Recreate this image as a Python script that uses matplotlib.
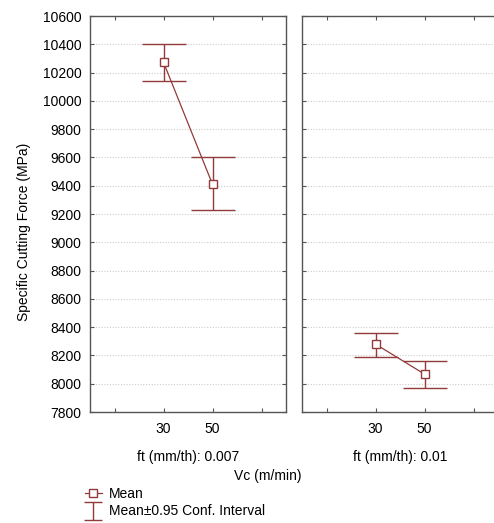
import matplotlib
matplotlib.use("Agg")
import matplotlib.pyplot as plt
from matplotlib.lines import Line2D
from matplotlib.path import Path
import numpy as np

plt.rcParams['font.family'] = ['Liberation Sans', 'DejaVu Sans']

vc_labels = ["30", "50"]
ft_labels = ["ft (mm/th): 0.007", "ft (mm/th): 0.01"]
means = [[10273, 9410], [8280, 8068]]
ci_upper = [[10405, 9600], [8360, 8163]]
ci_lower = [[10140, 9225], [8192, 7970]]

color = "#933a3a"
W, H = 494, 523
fig = plt.figure(figsize=(W / 100, H / 100), dpi=100)

def px(x0, y0, x1, y1):
    return [x0 / W, 1 - y1 / H, (x1 - x0) / W, (y1 - y0) / H]

rects = [px(90, 16, 286, 412), px(302, 16, 498, 412)]
xpos = np.array([1, 2])
for i, r in enumerate(rects):
    ax = fig.add_axes(r)
    m = np.array(means[i])
    lo = m - np.array(ci_lower[i])
    hi = np.array(ci_upper[i]) - m
    ax.errorbar(xpos, m, yerr=[lo, hi], fmt='none', ecolor=color, elinewidth=1,
                capsize=16, capthick=1, zorder=3)
    ax.plot(xpos, m, '-', color=color, lw=0.9, marker='s', markersize=6,
            markerfacecolor='white', markeredgecolor=color, markeredgewidth=1, zorder=4)
    ax.set_xlim(-0.5, 3.5)
    ax.set_ylim(7800, 10600)
    ax.set_yticks(np.arange(7800, 10601, 200))
    ax.set_xticks([0, 1, 2, 3])
    ax.set_xticklabels(["", vc_labels[0], vc_labels[1], ""])
    ax.yaxis.grid(True, linestyle=(0, (1, 1.5)), color='#cccccc', lw=0.8)
    ax.set_axisbelow(True)
    ax.tick_params(direction='in', length=3, width=0.8, top=True, right=True,
                   color='#555555', labelsize=10)
    ax.tick_params(axis='y', pad=6)
    ax.tick_params(axis='x', pad=7)
    for s in ax.spines.values():
        s.set_color('#555555')
        s.set_linewidth(1)
    ax.set_xlabel(ft_labels[i], fontsize=10, labelpad=10)
    if i == 1:
        ax.tick_params(labelleft=False)
    else:
        ax.set_ylabel("Specific Cutting Force (MPa)", fontsize=10)
        ax.yaxis.set_label_coords((31 - 90) / 196, (412 - 232) / 396)

fig.text(268 / W, 1 - 476 / H, "Vc (m/min)", ha='center', va='center', fontsize=10)

# legend
ibeam = Path([(-1, 1), (1, 1), (0, 1), (0, -1), (-1, -1), (1, -1)],
             [Path.MOVETO, Path.LINETO, Path.MOVETO, Path.LINETO, Path.MOVETO, Path.LINETO])
h1 = Line2D([], [], color=color, lw=0.9, marker='s', markersize=6,
            markerfacecolor='white', markeredgecolor=color)
h2 = Line2D([], [], color=color, lw=1, linestyle='none', marker=ibeam,
            markersize=13, markerfacecolor='none', markeredgecolor=color, markeredgewidth=1)
fig.legend([h1, h2], ["Mean", "Mean\u00b10.95 Conf. Interval"], loc='upper left',
           bbox_to_anchor=(85 / W, 1 - 487 / H), frameon=False, fontsize=10,
           handlelength=1.2, handletextpad=0.55, labelspacing=0.25, borderpad=0,
           borderaxespad=0)
fig.savefig("out.png", dpi=100)
